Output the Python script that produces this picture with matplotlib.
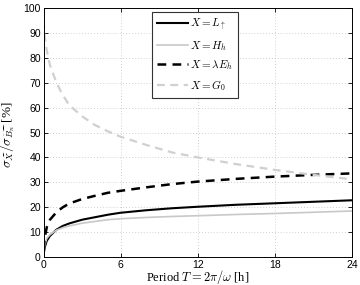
import matplotlib
matplotlib.use("Agg")
import matplotlib.pyplot as plt

plt.rcParams['mathtext.fontset'] = 'cm'
plt.rcParams['font.family'] = ['Liberation Sans', 'DejaVu Sans']

period = [0, 0.1, 0.25, 0.5, 1, 1.5, 2, 3, 4, 5, 6, 8, 10, 12, 15, 18, 21, 24]
L_up = [1, 4, 6.5, 8.5, 11, 12.5, 13.5, 15, 16, 17, 17.8, 18.8, 19.6, 20.2, 21, 21.6, 22.2, 22.8]
H_h = [2, 5, 7.5, 9, 10.8, 11.8, 12.5, 13.6, 14.3, 15, 15.4, 15.9, 16.3, 16.6, 17.1, 17.5, 18, 18.5]
lamE_h = [3, 8, 12, 15, 18, 20, 21.5, 23.3, 24.6, 25.8, 26.6, 28, 29.3, 30.3, 31.4, 32.3, 33, 33.6]
G_0 = [95, 88, 83, 77, 70, 65, 61, 56.5, 53, 50.5, 48.3, 45, 42, 40, 37.3, 35, 33, 31.2]

labels = [r'$X = L_{\uparrow}$', r'$X = H_h$', r'$X = \lambda E_h$', r'$X = G_0$']
xticks = [0, 6, 12, 18, 24]
yticks = list(range(0, 101, 10))

fig = plt.figure(figsize=(3.6, 2.85), dpi=100)
ax = fig.add_axes([0.121, 0.098, 0.857, 0.874])

ax.plot(period, L_up, color='black', lw=1.5, label=labels[0])
ax.plot(period, H_h, color='#c8c8c8', lw=1.2, label=labels[1])
ax.plot(period, lamE_h, color='black', lw=1.8, ls=(0, (3.5, 2.5)), label=labels[2])
ax.plot(period, G_0, color='#d0d0d0', lw=1.6, ls=(0, (3.5, 2.5)), label=labels[3])

ax.set_xlim(0, 24)
ax.set_ylim(0, 100)
ax.set_xticks(xticks)
ax.set_yticks(yticks)
ax.tick_params(direction='in', labelsize=7.5, length=3, width=0.6, top=True, right=True, pad=2)
ax.grid(True, ls=(0, (1, 2.5)), color='#c0c0c0', lw=0.6)
for s in ax.spines.values():
    s.set_linewidth(0.7)

ax.set_xlabel(r'Period $T = 2\pi/\omega$ [h]', fontsize=9)
ax.xaxis.label.set_fontfamily(['Liberation Serif'])
ax.xaxis.set_label_coords(0.5, -0.045)
ax.set_ylabel(r'$\sigma_{\widetilde{X}}/\sigma_{\widetilde{B_n}}$ [%]', fontsize=9.5)
ax.yaxis.label.set_fontfamily(['Liberation Serif'])
ax.yaxis.set_label_coords(-0.085, 0.49)

leg = ax.legend(loc='upper left', bbox_to_anchor=(0.352, 0.985), fontsize=8,
                frameon=True, fancybox=False, edgecolor='#333333', framealpha=1,
                handlelength=2.8, handletextpad=0.2, borderpad=0.45, labelspacing=0.5,
                borderaxespad=0)
leg.get_frame().set_linewidth(0.8)

fig.savefig('out.png', dpi=100)
